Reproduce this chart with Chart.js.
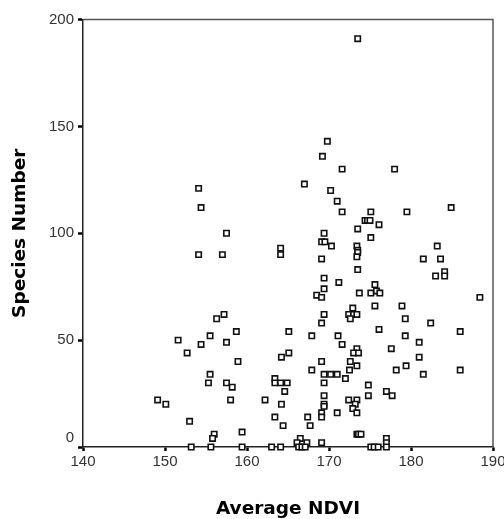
<!DOCTYPE html>
<html>
<head>
<meta charset="utf-8">
<script src="https://cdn.jsdelivr.net/npm/chart.js@4/dist/chart.umd.min.js"></script>
<style>
  html, body { margin: 0; padding: 0; background: #fff; }
  #wrap { width: 504px; height: 519px; position: relative; }
</style>
</head>
<body>
<div id="wrap"><canvas id="chart"></canvas></div>
<script>
// Average NDVI (x) and Species Number (y)
const ndvi = [
  173.5, 169.8, 169.2, 171.6, 178.0, 167.0, 170.2, 171.0, 171.6, 175.1,
  179.5, 184.9, 154.1, 154.4, 174.4, 174.7, 175.0, 176.1, 173.5, 157.5,
  169.4, 175.1, 169.1, 169.5, 170.3, 164.1, 164.1, 154.1, 157.0, 173.4,
  173.5, 173.5, 173.4, 169.1, 183.2, 181.5, 183.6, 184.1, 184.1, 183.0,
  173.5, 169.4, 171.2, 169.4, 168.5, 169.1, 173.7, 175.6, 175.1, 175.8,
  176.2, 188.4, 157.2, 156.3, 175.6, 178.9, 172.9, 172.4, 173.0, 173.4,
  172.6, 169.4, 179.3, 169.1, 182.4, 158.7, 165.1, 176.1, 186.0, 155.5,
  167.9, 171.1, 179.3, 151.6, 157.5, 154.4, 171.6, 181.0, 173.4, 177.6,
  152.7, 165.1, 173.0, 173.6, 164.2, 181.0, 158.9, 169.1, 172.6, 173.4,
  179.4, 172.5, 167.9, 178.2, 186.0, 155.5, 169.4, 170.2, 171.0, 181.5,
  163.4, 172.0, 155.3, 157.5, 163.4, 164.1, 164.9, 169.4, 174.8, 158.2,
  164.6, 177.0, 169.4, 174.8, 177.7, 149.1, 158.0, 162.2, 172.4, 173.4,
  150.1, 164.2, 169.4, 173.2, 169.4, 172.9, 169.1, 171.0, 173.4, 163.4,
  167.4, 169.1, 153.0, 164.4, 167.7, 159.4, 156.0, 155.8, 173.4, 173.6,
  173.9, 166.5, 177.0, 166.1, 167.3, 169.1, 177.0, 153.2, 155.6, 159.4,
  163.0, 164.1, 166.3, 166.7, 167.1, 175.1, 175.5, 176.0, 177.0
];
const species = [
  191, 143, 136, 130, 130, 123, 120, 115, 110, 110,
  110, 112, 121, 112, 106, 106, 106, 104, 102, 100,
  100, 98, 96, 96, 94, 93, 90, 90, 90, 94,
  92, 91, 89, 88, 94, 88, 88, 82, 80, 80,
  83, 79, 77, 74, 71, 70, 72, 76, 72, 73,
  72, 70, 62, 60, 66, 66, 65, 62, 62, 62,
  60, 62, 60, 58, 58, 54, 54, 55, 54, 52,
  52, 52, 52, 50, 49, 48, 48, 49, 46, 46,
  44, 44, 44, 44, 42, 42, 40, 40, 40, 38,
  38, 36, 36, 36, 36, 34, 34, 34, 34, 34,
  32, 32, 30, 30, 30, 30, 30, 30, 29, 28,
  26, 26, 24, 24, 24, 22, 22, 22, 22, 22,
  20, 20, 20, 20, 19, 18, 16, 16, 16, 14,
  14, 14, 12, 10, 10, 7, 6, 4, 6, 6,
  6, 4, 4, 2, 2, 2, 2, 0, 0, 0,
  0, 0, 0, 0, 0, 0, 0, 0, 0
];
const xTicks = [140, 150, 160, 170, 180, 190];
const yTicks = [0, 50, 100, 150, 200];

const points = ndvi.map((x, i) => ({ x: x, y: species[i] }));

// grey box round the plot area (top and right sides)
const frame = {
  id: 'frame',
  beforeDatasetsDraw(chart) {
    const { ctx, chartArea: a } = chart;
    ctx.save();
    ctx.strokeStyle = '#555';
    ctx.lineWidth = 1.5;
    ctx.beginPath();
    ctx.moveTo(a.left, a.top);
    ctx.lineTo(a.right, a.top);
    ctx.lineTo(a.right, a.bottom);
    ctx.stroke();
    ctx.restore();
  }
};

new Chart(document.getElementById('chart'), {
  type: 'scatter',
  data: {
    datasets: [{
      data: points,
      pointStyle: 'rect',
      pointRadius: 3.8,
      pointHoverRadius: 3.8,
      borderWidth: 1.6,
      borderColor: '#111',
      backgroundColor: '#fff',
      clip: false
    }]
  },
  options: {
    responsive: true,
    maintainAspectRatio: false,
    animation: false,
    layout: { padding: { top: 19.5, right: 11, bottom: 0, left: 0 } },
    plugins: { legend: { display: false }, tooltip: { enabled: false } },
    scales: {
      x: {
        type: 'linear',
        min: 140,
        max: 190,
        afterBuildTicks: s => { s.ticks = xTicks.map(v => ({ value: v })); },
        afterFit: s => { s.height = 72; s.paddingLeft = 0; s.paddingRight = 0; },
        border: { color: '#222', width: 1.5 },
        grid: { drawOnChartArea: false, drawTicks: true, tickLength: 4, tickColor: '#000', tickWidth: 2.5 },
        ticks: { color: '#333', padding: 2, font: { family: 'Liberation Sans', size: 15 } },
        title: {
          display: true,
          text: 'Average NDVI',
          color: '#000',
          padding: { top: 0, bottom: -1 },
          font: { family: 'DejaVu Sans', size: 18.5, weight: 'bold' }
        }
      },
      y: {
        type: 'linear',
        min: 0,
        max: 200,
        afterBuildTicks: s => { s.ticks = yTicks.map(v => ({ value: v })); },
        afterFit: s => { s.width = 83; s.paddingTop = 0; s.paddingBottom = 0; },
        border: { color: '#222', width: 1.5 },
        grid: { drawOnChartArea: false, drawTicks: true, tickLength: 5, tickColor: '#000', tickWidth: 2.5 },
        ticks: {
          color: '#333',
          padding: 4,
          font: { family: 'Liberation Sans', size: 15 },
          callback: v => (v === 0 ? ['0', ''] : String(v))
        },
        title: {
          display: true,
          text: 'Species Number',
          color: '#000',
          padding: { top: 9, bottom: 0 },
          font: { family: 'DejaVu Sans', size: 18.5, weight: 'bold' }
        }
      }
    }
  },
  plugins: [frame]
});
</script>
</body>
</html>
